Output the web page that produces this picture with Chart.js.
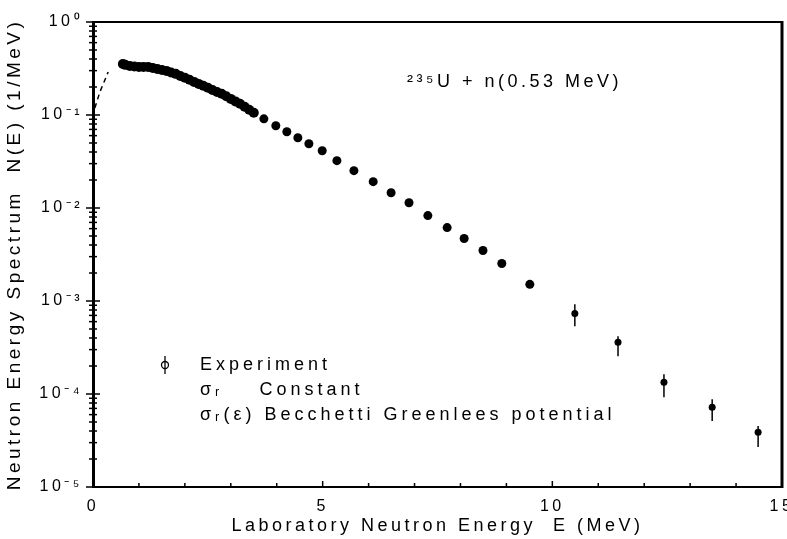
<!DOCTYPE html>
<html><head><meta charset="utf-8">
<script src="https://cdn.jsdelivr.net/npm/chart.js@4/dist/chart.umd.min.js"></script>
<style>html,body{margin:0;padding:0;background:#fff}</style>
</head><body>
<canvas id="c" width="787" height="539"></canvas>
<script>
// ---- data ----
const energies = [0.65,0.7,0.8,0.9,1.0,1.1,1.2,1.3,1.4,1.5,1.6,1.7,1.8,1.9,2.0,2.1,2.2,2.3,2.4,2.5,2.6,2.7,2.8,2.9,3.0,3.1,3.2,3.3,3.4,3.5,
  3.72,3.98,4.22,4.46,4.70,4.99,5.31,5.68,6.10,6.49,6.88,7.29,7.71,8.08,8.49,8.90,9.51,10.49,11.43,12.43,13.48,14.48];
const spectrum = [0.354,0.346,0.337,0.333,0.329,0.329,0.329,0.321,0.313,0.305,0.298,0.287,0.277,0.263,0.251,0.239,0.227,0.216,0.206,0.196,0.186,0.177,0.169,0.159,0.149,0.140,0.132,0.1225,0.1137,0.1056,
  0.091,0.0766,0.066,0.0569,0.0491,0.0413,0.0323,0.0252,0.0192,0.0146,0.0114,0.00829,0.00616,0.0047,0.00349,0.00253,0.00151,0.000736,0.00036,0.000134,0.0000721,0.0000389];
const errEnergies = [10.49,11.43,12.43,13.48,14.48];
const errHigh = [0.00092,0.000417,0.000163,0.0000879,0.0000452];
const errLow  = [0.000536,0.000255,0.0000924,0.0000511,0.0000269];
const constantCurveE = [0.04,0.15,0.24,0.33];
const constantCurveN = [0.119,0.177,0.226,0.29];
const xTickLabels = ['0','5','10','15'];
const yDecades = [1,0.1,0.01,0.001,0.0001,0.00001];
const yTickLabels = ['10⁰','10⁻¹','10⁻²','10⁻³','10⁻⁴','10⁻⁵'];
const legendLabels = ['Experiment','σᵣ    Constant','σᵣ(ε) Becchetti Greenlees potential'];
const reactionLabel = '²³⁵U + n(0.53 MeV)';
const xTitle = 'Laboratory Neutron Energy  E (MeV)';
const yTitle = 'Neutron Energy Spectrum  N(E) (1/MeV)';

const FONT = "'Liberation Sans', Arial, sans-serif";

const decor = {
  id: 'decor',
  beforeDraw(chart) { chart.ctx.letterSpacing = '3.5px'; },
  afterDatasetsDraw(chart) {
    const ctx = chart.ctx, xs = chart.scales.x, ys = chart.scales.y, a = chart.chartArea;
    ctx.save();
    ctx.strokeStyle = '#000'; ctx.fillStyle = '#000';
    // error bars
    ctx.lineWidth = 1.5;
    errEnergies.forEach((e, i) => {
      const px = xs.getPixelForValue(e);
      ctx.beginPath();
      ctx.moveTo(px, ys.getPixelForValue(errHigh[i]));
      ctx.lineTo(px, ys.getPixelForValue(errLow[i]));
      ctx.stroke();
    });
    // frame
    ctx.lineWidth = 2;
    ctx.beginPath();
    ctx.moveTo(a.left, a.top); ctx.lineTo(a.right, a.top);
    ctx.stroke();
    ctx.lineWidth = 3;
    ctx.beginPath(); ctx.moveTo(a.right, a.top - 1); ctx.lineTo(a.right, a.bottom + 1); ctx.stroke();
    // y ticks crossing the axis
    ctx.lineWidth = 1.5;
    ys.ticks.forEach(t => {
      const py = ys.getPixelForValue(t.value);
      const L = t.major ? 7 : 4;
      ctx.beginPath(); ctx.moveTo(a.left - L, py); ctx.lineTo(a.left + L, py); ctx.stroke();
    });
    // x ticks inward
    xs.ticks.forEach(t => {
      const px = xs.getPixelForValue(t.value);
      const L = (t.value % 5 === 0) ? 6 : 4;
      ctx.beginPath(); ctx.moveTo(px, a.bottom); ctx.lineTo(px, a.bottom - L); ctx.stroke();
    });
    // legend
    ctx.font = "18px " + FONT;
    ctx.textBaseline = 'middle'; ctx.textAlign = 'left';
    ctx.letterSpacing = '4px';
    const lx = 200, ly = [365, 390, 415];
    legendLabels.forEach((s, i) => ctx.fillText(s, lx, ly[i]));
    // experiment symbol
    ctx.lineWidth = 1.3;
    ctx.beginPath(); ctx.moveTo(165, ly[0] - 9); ctx.lineTo(165, ly[0] + 9); ctx.stroke();
    ctx.beginPath(); ctx.arc(165, ly[0], 3.5, 0, Math.PI * 2); ctx.stroke();
    // reaction label
    ctx.letterSpacing = '3.5px';
    ctx.fillText(reactionLabel, 407, 82);
    ctx.restore();
  }
};

new Chart(document.getElementById('c').getContext('2d'), {
  type: 'scatter',
  data: {
    datasets: [
      {
        label: legendLabels[0],
        data: energies.map((e, i) => ({ x: e, y: spectrum[i] })),
        backgroundColor: '#000', borderColor: '#000', borderWidth: 0,
        pointRadius: c => { const v = c.raw ? c.raw.x : 0; return v < 3.6 ? 5 : (v < 10 ? 4.5 : 3.5); }
      },
      {
        label: legendLabels[1],
        data: constantCurveE.map((e, i) => ({ x: e, y: constantCurveN[i] })),
        showLine: true, borderColor: '#000', borderWidth: 1.5, borderDash: [5, 4],
        pointRadius: 0, fill: false
      }
    ]
  },
  options: {
    responsive: false, animation: false, devicePixelRatio: 1,
    layout: { padding: { top: 22, right: 5, left: 0, bottom: 0 } },
    plugins: { legend: { display: false }, tooltip: { enabled: false } },
    scales: {
      x: {
        type: 'linear', min: 0, max: 15,
        border: { display: true, color: '#000', width: 2 },
        grid: { display: false, drawTicks: false },
        ticks: {
          stepSize: 1, autoSkip: false, maxRotation: 0, padding: 10, color: '#000',
          font: { family: FONT, size: 16 },
          callback: v => (v % 5 === 0 ? xTickLabels[v / 5] : '')
        },
        title: { display: true, text: xTitle, color: '#000', font: { family: FONT, size: 18 }, padding: { top: 0, bottom: 2 } },
        afterFit: s => { s.height = 52; s.paddingLeft = 0; s.paddingRight = 0; }
      },
      y: {
        type: 'logarithmic', min: 0.00001, max: 1,
        border: { display: true, color: '#000', width: 3 },
        grid: { display: false, drawTicks: false },
        afterBuildTicks: s => {
          const t = [];
          for (let e = -5; e <= 0; e++) {
            for (let m = 1; m <= 9; m++) {
              const v = m * Math.pow(10, e);
              if (v <= 1.0000001) t.push({ value: v, major: m === 1 });
            }
          }
          s.ticks = t;
        },
        ticks: {
          autoSkip: false, padding: 10, color: '#000',
          font: { family: FONT, size: 16 },
          callback: v => {
            const i = yDecades.findIndex(d => Math.abs(d - v) / d < 1e-6);
            return i >= 0 ? yTickLabels[i] : '';
          }
        },
        title: { display: true, text: yTitle, color: '#000', font: { family: FONT, size: 19 }, padding: { top: 3, bottom: 0 } },
        afterFit: s => { s.width = 93; s.paddingTop = 0; s.paddingBottom = 0; }
      }
    }
  },
  plugins: [decor]
});
</script>
</body></html>
